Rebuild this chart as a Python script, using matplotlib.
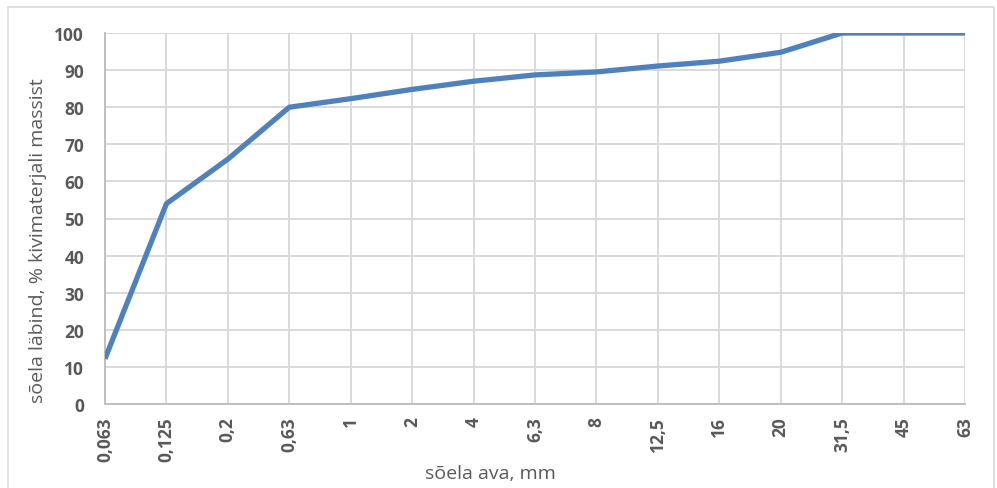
import matplotlib.pyplot as plt
from matplotlib.patches import Rectangle

sieve = ['0,063', '0,125', '0,2', '0,63', '1', '2', '4', '6,3', '8',
         '12,5', '16', '20', '31,5', '45', '63']
passing = [12.2, 54, 66, 80, 82.3, 84.8, 87, 88.7, 89.5,
           91.1, 92.4, 94.8, 100, 100, 100]

plt.rcParams['font.family'] = ['Open Sans', 'DejaVu Sans']

fig = plt.figure(figsize=(9.97, 4.89), dpi=100)
ax = fig.add_axes([105/997, 1-405/489, 860/997, 371/489])

x = list(range(len(sieve)))
ax.plot(x, passing, color='#4f81bd', lw=3.8, solid_capstyle='butt', zorder=3)

ax.set_xlim(0, len(sieve)-1)
ax.set_ylim(0, 100)
ax.set_yticks(range(0, 101, 10))
ax.set_xticks(x)
ax.set_xticklabels(sieve, rotation=90, va='top', ha='center')
ax.tick_params(length=0, labelcolor='#595959', labelsize=12.5)
ax.tick_params(axis='y', pad=15)
ax.tick_params(axis='x', pad=9)
for lab in ax.get_xticklabels() + ax.get_yticklabels():
    lab.set_fontweight('bold')

ax.grid(True, color='#d9d9d9', lw=1.4)
ax.set_axisbelow(True)
for s in ['top', 'right']:
    ax.spines[s].set_visible(False)
for s in ['left', 'bottom']:
    ax.spines[s].set_color('#bfbfbf')
    ax.spines[s].set_linewidth(1.4)

fig.text(38/997, 1-241/489, 'sõela läbind, % kivimaterjali massist', rotation=90,
         ha='center', va='center', fontsize=14, color='#595959')
fig.text(490/997, 1-474/489, 'sõela ava, mm', ha='center', va='center',
         fontsize=14, color='#595959')

fig.patches.append(Rectangle((8/997, -0.05), 986/997, 1.05-8/489, transform=fig.transFigure,
                             fill=False, edgecolor='#d9d9d9', lw=1.2))

fig.savefig('out.png', dpi=100)
